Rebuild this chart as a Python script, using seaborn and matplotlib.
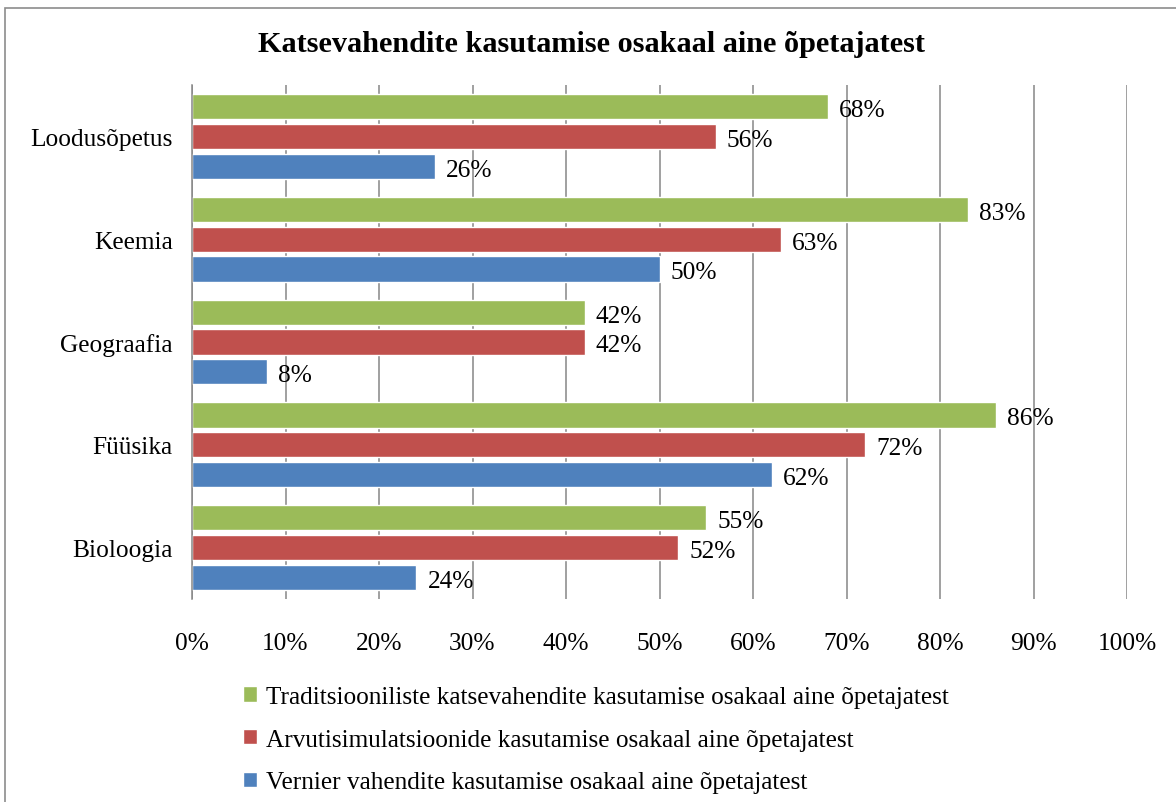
"""
Katsevahendite kasutamise osakaal aine opetajatest - horizontal grouped bars.
"""

import pandas as pd
import matplotlib
matplotlib.use('Agg')
import matplotlib.pyplot as plt
from matplotlib.patches import Rectangle
import seaborn as sns


subjects = ['Loodusõpetus', 'Keemia', 'Geograafia', 'Füüsika', 'Bioloogia']
series_names = [
    'Traditsiooniliste katsevahendite kasutamise osakaal aine õpetajatest',
    'Arvutisimulatsioonide kasutamise osakaal aine õpetajatest',
    'Vernier vahendite kasutamise osakaal aine õpetajatest',
]
traditional = [68, 83, 42, 86, 55]
simulations = [56, 63, 42, 72, 52]
vernier = [26, 50, 8, 62, 24]
x_ticks = [0, 10, 20, 30, 40, 50, 60, 70, 80, 90, 100]
colors = ['#9BBB59', '#C0504D', '#4F81BD']
title = 'Katsevahendite kasutamise osakaal aine õpetajatest'


def build_frame():
    rows = []
    for name, values in zip(series_names, [traditional, simulations, vernier]):
        for subj, val in zip(subjects, values):
            rows.append({'aine': subj, 'seeria': name, 'osakaal': val})
    return pd.DataFrame(rows)


def main():
    df = build_frame()

    sns.set_style('white')
    plt.rcParams['font.family'] = ['Liberation Serif', 'DejaVu Serif']
    plt.rcParams['text.color'] = 'black'

    fig = plt.figure(figsize=(11.76, 8.03), dpi=100)
    ax = fig.add_axes([192 / 1176, 1 - 600 / 803, 935 / 1176, 514 / 803])

    sns.barplot(data=df, y='aine', x='osakaal', hue='seeria',
                order=subjects, hue_order=series_names, palette=colors,
                orient='h', width=0.87, gap=0.15, saturation=1,
                ax=ax, zorder=3)

    for cont, values in zip(ax.containers, [traditional, simulations, vernier]):
        texts = ax.bar_label(cont, labels=[f'{v}%' for v in values], padding=8,
                             fontsize=18.3, color='black')
        # Excel puts the labels a touch below the bar centre
        for t in texts:
            t.xyann = (t.xyann[0], t.xyann[1] - 2.5)

    ax.set_xlim(0, 100)
    ax.set_xticks(x_ticks)
    ax.set_xticklabels([f'{t}%' for t in x_ticks])
    ax.set_xlabel('')
    ax.set_ylabel('')
    ax.grid(axis='x', color='#868686', linewidth=1.1, zorder=0)
    ax.tick_params(axis='both', length=0, labelsize=18.3, colors='black')
    ax.tick_params(axis='x', pad=24)
    ax.tick_params(axis='y', pad=14)
    for side in ['top', 'right', 'bottom']:
        ax.spines[side].set_visible(False)
    ax.spines['left'].set_color('#868686')
    ax.spines['left'].set_linewidth(1.1)
    ax.spines['left'].set_zorder(4)

    handles, labels = ax.get_legend_handles_labels()
    ax.get_legend().remove()
    fig.legend(handles, labels, loc='upper left',
               bbox_to_anchor=(243 / 1176, 1 - 687 / 803),
               frameon=False, fontsize=18.2, labelcolor='black',
               handlelength=0.55, handleheight=0.55,
               handletextpad=0.35, labelspacing=0.82, borderpad=0, borderaxespad=0)

    fig.text(591 / 1176, 1 - 45 / 803, title, ha='center', va='center',
             fontsize=21.8, fontweight='bold', color='black')

    fig.patches.append(Rectangle((5 / 1176, -0.05), 1.1, 1 - 9 / 803 + 0.05,
                                 transform=fig.transFigure, fill=False,
                                 edgecolor='#8c8c8c', linewidth=1.2))

    fig.savefig('out.png', dpi=100)
    plt.close(fig)


if __name__ == '__main__':
    main()
